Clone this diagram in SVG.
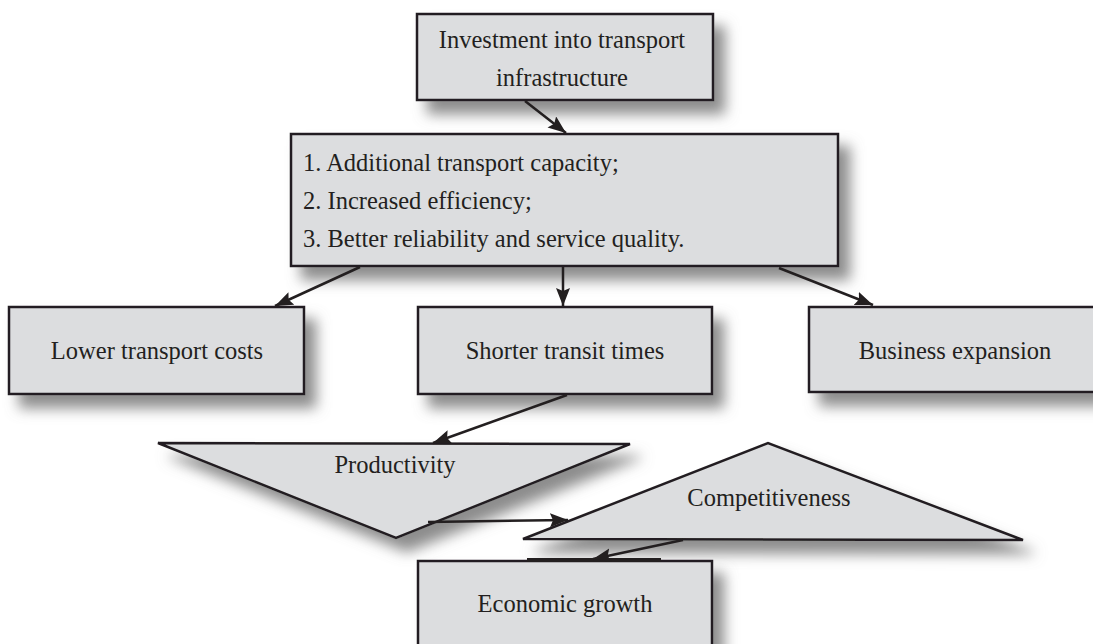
<svg xmlns="http://www.w3.org/2000/svg" width="1093" height="644" viewBox="0 0 1093 644">
<defs>
<filter id="sh" x="-20%" y="-30%" width="150%" height="190%">
<feDropShadow dx="11" dy="13" stdDeviation="7" flood-color="#808080" flood-opacity="0.9"/>
</filter>
<marker id="ah" markerUnits="userSpaceOnUse" markerWidth="20" markerHeight="16" refX="18" refY="7" orient="auto">
<path d="M0,0 L18,7 L0,14 L3,7 Z" fill="#231f20"/>
</marker>
</defs>
<style>
.box{fill:#dcdddf;stroke:#231f20;stroke-width:2.5;filter:url(#sh)}
.t{font-family:"Liberation Serif",serif;font-size:24.5px;fill:#231f20}
.c{text-anchor:middle}
.con line{stroke:#231f20;stroke-width:2.5;marker-end:url(#ah)}
</style>
<rect width="1093" height="644" fill="#ffffff"/>
<g id="n-investment">
<rect class="box" x="417" y="14" width="296" height="86"/>
<text class="t c" x="562" y="48">Investment into transport</text>
<text class="t c" x="562" y="86">infrastructure</text>
</g>
<g id="n-effects">
<rect class="box" x="291" y="134" width="547" height="132"/>
<text class="t" x="303" y="171">1. Additional transport capacity;</text>
<text class="t" x="303" y="209">2. Increased efficiency;</text>
<text class="t" x="303" y="247">3. Better reliability and service quality.</text>
</g>
<g id="n-costs">
<rect class="box" x="9" y="307" width="295" height="87"/>
<text class="t c" x="157" y="359">Lower transport costs</text>
</g>
<g id="n-transit">
<rect class="box" x="418" y="307" width="294" height="87"/>
<text class="t c" x="565" y="359">Shorter transit times</text>
</g>
<g id="n-business">
<rect class="box" x="809" y="307" width="292" height="85"/>
<text class="t c" x="955" y="359">Business expansion</text>
</g>
<g id="n-productivity">
<polygon class="box" points="158,443 630,444 396,538"/>
<text class="t c" x="395" y="473">Productivity</text>
</g>
<g id="n-competitiveness">
<polygon class="box" points="523,539 768,443 1023,540"/>
<text class="t c" x="769" y="506">Competitiveness</text>
</g>
<g id="n-growth">
<rect class="box" x="418" y="561" width="294" height="100"/>
<line x1="527" y1="560" x2="661" y2="560" stroke="#231f20" stroke-width="4"/>
<text class="t c" x="565" y="612">Economic growth</text>
</g>
<g id="connectors" class="con">
<line x1="525" y1="101" x2="566" y2="133"/>
<line x1="360" y1="267" x2="275" y2="306"/>
<line x1="563" y1="267" x2="563" y2="306"/>
<line x1="779" y1="268" x2="873" y2="305"/>
<line x1="567" y1="395" x2="433" y2="443"/>
<line x1="428" y1="522" x2="568" y2="520"/>
<line x1="683" y1="540" x2="593" y2="559"/>
</g>
</svg>
